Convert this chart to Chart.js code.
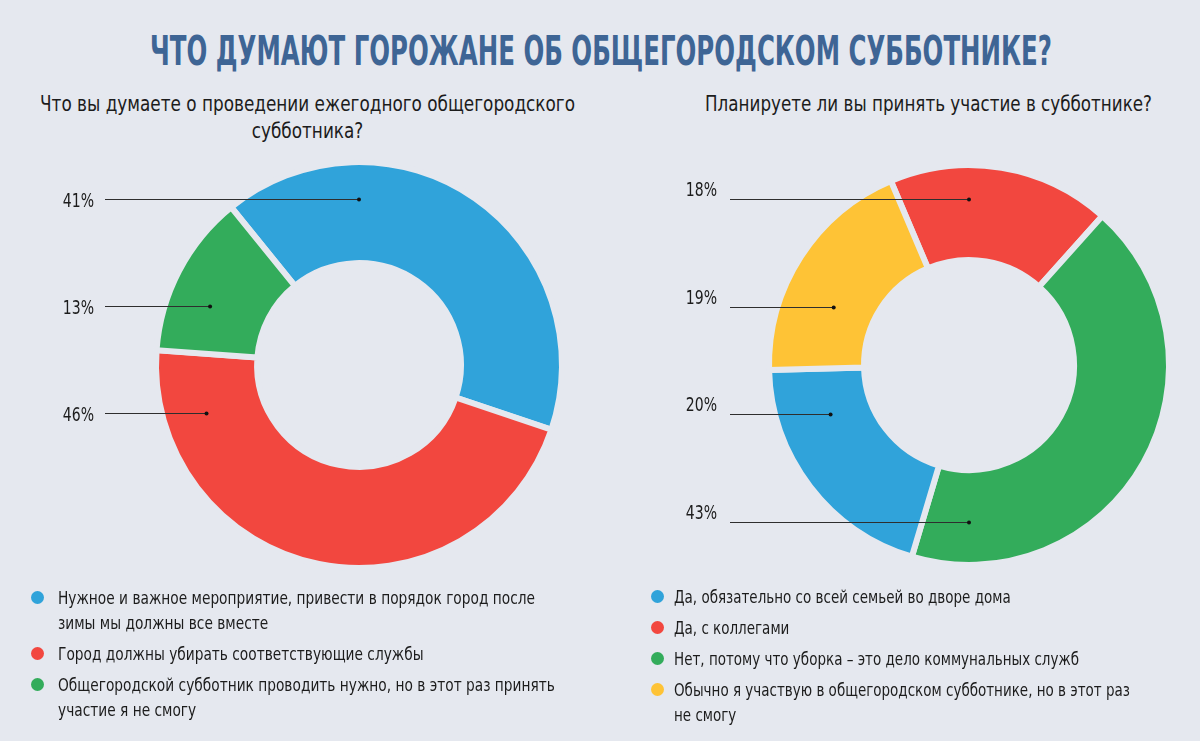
<!DOCTYPE html>
<html><head><meta charset="utf-8">
<script src="https://cdn.jsdelivr.net/npm/chart.js@4.4.1/dist/chart.umd.min.js"></script>
<style>
html,body{margin:0;padding:0;background:#e5e8ef;}
#page{position:relative;width:1200px;height:741px;overflow:hidden;background:#e5e8ef;
  font-family:"Liberation Sans Narrow","DejaVu Sans Condensed","Roboto Condensed",sans-serif;color:#1c1c1c;}
.box{position:absolute;text-align:center;white-space:nowrap;}
.fit{display:inline-block;white-space:pre;transform-origin:0 0;}
#title{left:150px;top:27px;font-weight:bold;font-size:40px;line-height:48px;color:#3e6595;}
.sub{font-size:22px;line-height:27px;}
.cv{position:absolute;top:0;width:600px;height:741px;}
.legend{position:absolute;font-size:18px;line-height:25px;}
.item{position:relative;margin-bottom:6px;text-align:left;}
.dot{position:absolute;width:13px;height:13px;border-radius:50%;top:6px;}
</style></head>
<body><div id="page">
<div class="box" id="title"><span class="fit" id="titleText"></span></div>
<div class="box sub" id="sub1" style="left:40px;top:90px;"><span class="fit" id="sub1Text"></span></div>
<div class="box sub" id="sub2" style="left:705px;top:90px;"><span class="fit" id="sub2Text"></span></div>
<div class="cv" style="left:0"><canvas id="c1" width="600" height="741"></canvas></div>
<div class="cv" style="left:600px"><canvas id="c2" width="600" height="741"></canvas></div>
<div class="legend" id="leg1" style="left:58px;top:585px;"></div>
<div class="legend" id="leg2" style="left:674px;top:584px;"></div>
</div>
<script>
// ---- data ----
const TITLE = "ЧТО ДУМАЮТ ГОРОЖАНЕ ОБ ОБЩЕГОРОДСКОМ СУББОТНИКЕ?";
const Q1 = "Что вы думаете о проведении ежегодного общегородского\nсубботника?";
const Q2 = "Планируете ли вы принять участие в субботнике?";

const cats1 = [
  "Нужное и важное мероприятие, привести в порядок город после\nзимы мы должны все вместе",
  "Город должны убирать соответствующие службы",
  "Общегородской субботник проводить нужно, но в этот раз принять\nучастие я не смогу"
];
const vals1 = [41, 46, 13];
const cols1 = ["#30a3da", "#f2473f", "#33ac5b"];

// drawing order (clockwise from the top-left)
const cats2 = [
  "Да, с коллегами",
  "Нет, потому что уборка – это дело коммунальных служб",
  "Да, обязательно со всей семьей во дворе дома",
  "Обычно я участвую в общегородском субботнике, но в этот раз\nне смогу"
];
const vals2 = [18, 43, 20, 19];
const cols2 = ["#f2473f", "#33ac5b", "#30a3da", "#fec336"];
const legendOrder2 = [2, 0, 1, 3];

const BG = "#e5e8ef";
const FONT = '"Liberation Sans Narrow","DejaVu Sans Condensed","Roboto Condensed",sans-serif';

function fitTo(el, target) {
  const w = el.getBoundingClientRect().width;
  el.style.transform = 'scaleX(' + (target / w) + ')';
}

document.getElementById('titleText').textContent = TITLE;
document.getElementById('sub1Text').textContent = Q1;
document.getElementById('sub2Text').textContent = Q2;
fitTo(document.getElementById('titleText'), 902);
fitTo(document.getElementById('sub1Text'), 535);
fitTo(document.getElementById('sub2Text'), 447);

function buildLegend(el, cats, cols, order, refIdx, refWidth, dotLeft) {
  const spans = [];
  order.forEach(i => {
    const it = document.createElement('div'); it.className = 'item';
    const d = document.createElement('span'); d.className = 'dot';
    d.style.background = cols[i]; d.style.left = dotLeft + 'px';
    it.appendChild(d);
    const t = document.createElement('span'); t.className = 'fit';
    t.textContent = cats[i];
    it.appendChild(t);
    el.appendChild(it);
    spans[i] = t;
  });
  const s = refWidth / spans[refIdx].getBoundingClientRect().width;
  spans.forEach(t => { if (t) t.style.transform = 'scaleX(' + s + ')'; });
}
buildLegend(document.getElementById('leg1'), cats1, cols1, [0, 1, 2], 0, 477, -27);
buildLegend(document.getElementById('leg2'), cats2, cols2, legendOrder2, 3, 456, -23);

const leaders = {
  id: 'leaders',
  afterDatasetsDraw(chart, args, o) {
    const ctx = chart.ctx;
    const arcs = chart.getDatasetMeta(0).data;
    const data = chart.data.datasets[0].data;
    const total = data.reduce((a, b) => a + b, 0);
    const n = arcs.length;
    const cx = arcs[0].x, cy = arcs[0].y;
    const TAU = Math.PI * 2;
    let top = 0;
    for (let i = 0; i < n; i++) {
      const s = arcs[i].startAngle, e = arcs[i].endAngle;
      let a = -Math.PI / 2;
      while (a < s) a += TAU;
      if (a <= e) { top = i; break; }
    }
    ctx.save();
    for (let k = 0; k < n; k++) {
      const i = ((top - k) % n + n) % n;
      const y = Math.round(o.rowTop + k * o.rowStep) + 0.5;
      const dy = y - cy;
      const dx = Math.sqrt(Math.max(0, o.rm * o.rm - dy * dy));
      const x = cx - dx;
      ctx.strokeStyle = '#2e2e2e'; ctx.lineWidth = 1;
      ctx.beginPath(); ctx.moveTo(o.lineStart, y); ctx.lineTo(x, y); ctx.stroke();
      ctx.fillStyle = '#111';
      ctx.beginPath(); ctx.arc(x, y, 2, 0, TAU); ctx.fill();
      ctx.save();
      ctx.translate(o.textRight, y + o.textDy);
      ctx.scale(0.78, 1);
      ctx.font = '20px ' + FONT;
      ctx.textAlign = 'right'; ctx.textBaseline = 'alphabetic';
      ctx.fillStyle = '#1c1c1c';
      ctx.fillText(Math.round(data[i] / total * 100) + '%', 0, 0);
      ctx.restore();
    }
    ctx.restore();
  }
};

function makeChart(id, vals, cols, rotation, cutout, pad, lopts) {
  return new Chart(document.getElementById(id), {
    type: 'doughnut',
    data: { labels: vals.map((v, i) => String(i)), datasets: [{ data: vals, backgroundColor: cols,
      borderColor: BG, borderWidth: 6, hoverBorderWidth: 6, hoverOffset: 0, borderJoinStyle: 'miter' }] },
    options: {
      responsive: false, animation: false, events: [],
      rotation: rotation, cutout: cutout,
      layout: { padding: pad },
      plugins: { legend: { display: false }, tooltip: { enabled: false }, leaders: lopts }
    },
    plugins: [leaders]
  });
}

makeChart('c1', vals1, cols1, -39, '50.2%',
  { left: 153, top: 159, right: 35, bottom: 170 },
  { rowTop: 199, rowStep: 107.2, rm: 160, lineStart: 105, textRight: 94, textDy: 7 });
makeChart('c2', vals2, cols2, -23, '52.5%',
  { left: 166, top: 162, right: 28, bottom: 173 },
  { rowTop: 199, rowStep: 107.6, rm: 147, lineStart: 130, textRight: 117, textDy: -4 });
</script>
</body></html>
